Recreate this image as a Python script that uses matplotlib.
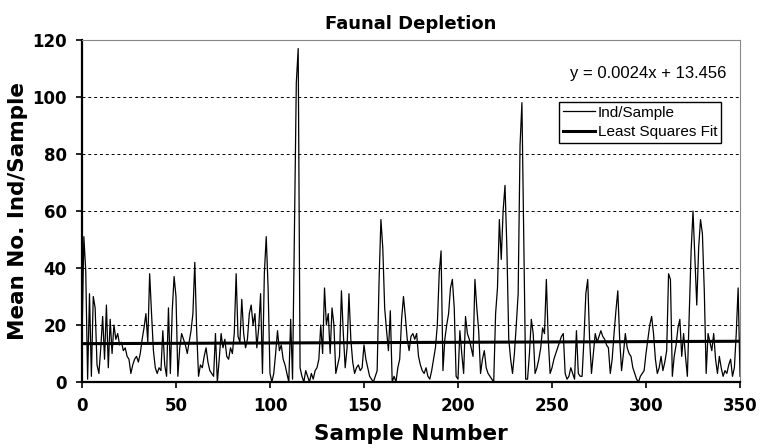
import numpy as np
import matplotlib.pyplot as plt

plt.rcParams['font.family'] = ['DejaVu Sans']

# Ind/Sample values (sample 0..350)
ind_per_sample = [
    14, 51, 39, 1, 31, 2, 30, 26, 6, 3,
    12, 23, 8, 27, 5, 22, 10, 20, 15, 17,
    13, 14, 11, 12, 9, 8, 3, 6, 8, 9,
    7, 10, 15, 19, 24, 14, 38, 24, 11, 5,
    3, 5, 4, 18, 6, 2, 26, 3, 25, 37,
    30, 2, 12, 17, 15, 13, 10, 14, 18, 24,
    42, 18, 2, 6, 5, 9, 12, 7, 4, 3,
    2, 17, 0, 8, 17, 12, 15, 9, 8, 12,
    10, 17, 38, 16, 14, 29, 17, 12, 15, 24,
    27, 20, 24, 12, 19, 31, 3, 38, 51, 33,
    3, 0, 3, 10, 18, 11, 13, 8, 6, 3,
    0, 22, 1, 54, 105, 117, 5, 2, 0, 4,
    2, 0, 3, 1, 4, 5, 8, 20, 10, 33,
    20, 24, 10, 26, 20, 3, 6, 9, 32, 17,
    5, 12, 31, 15, 7, 3, 5, 6, 4, 5,
    13, 8, 5, 2, 1, 0, 2, 4, 35, 57,
    47, 26, 18, 11, 25, 0, 2, 0, 5, 8,
    22, 30, 23, 15, 11, 16, 17, 15, 17, 9,
    6, 4, 3, 5, 2, 1, 4, 8, 12, 20,
    38, 46, 4, 15, 20, 24, 33, 36, 26, 2,
    1, 18, 10, 3, 23, 17, 15, 12, 9, 36,
    26, 18, 3, 8, 11, 5, 3, 2, 1, 0,
    24, 33, 57, 43, 60, 69, 47, 15, 8, 3,
    10, 20, 31, 83, 98, 50, 1, 1, 10, 22,
    17, 3, 5, 8, 12, 19, 17, 36, 15, 3,
    5, 8, 10, 12, 14, 16, 17, 3, 1, 2,
    5, 3, 1, 18, 3, 2, 2, 15, 31, 36,
    15, 3, 10, 17, 14, 16, 18, 16, 15, 13,
    12, 3, 8, 17, 25, 32, 15, 4, 10, 17,
    12, 10, 9, 5, 3, 1, 0, 2, 3, 4,
    10, 15, 20, 23, 17, 8, 3, 5, 9, 4,
    7, 11, 38, 36, 2, 9, 13, 19, 22, 9,
    17, 9, 2, 24, 46, 60, 43, 27, 47, 57,
    52, 32, 3, 17, 14, 11, 17, 8, 3, 9,
    5, 2, 4, 3, 6, 8, 2, 5, 17, 33, 2,
]

# least squares fit as printed on the chart
slope = 0.0024
intercept = 13.456

samples = np.arange(len(ind_per_sample))
fit = slope * samples + intercept

fig = plt.figure(figsize=(7.64, 4.48), dpi=100)
ax = fig.add_axes([0.1073, 0.1473, 0.8613, 0.7634])

ax.plot(samples, ind_per_sample, color='black', lw=0.9, label='Ind/Sample')
ax.plot(samples, fit, color='black', lw=2.2, label='Least Squares Fit')

ax.set_xlim(0, 350)
ax.set_ylim(0, 120)
ax.set_xticks(np.arange(0, 351, 50))
ax.set_yticks(np.arange(0, 121, 20))
ax.yaxis.grid(True, color='black', linestyle=(0, (3, 3)), lw=0.7)
ax.set_axisbelow(True)

for s in ['left', 'bottom']:
    ax.spines[s].set_linewidth(1.6)
for s in ['top', 'right']:
    ax.spines[s].set_color('#888888')
    ax.spines[s].set_linewidth(0.8)

ax.tick_params(direction='out', length=4, width=1.2, labelsize=12, pad=7)
for lab in ax.get_xticklabels() + ax.get_yticklabels():
    lab.set_fontweight('bold')

ax.set_title('Faunal Depletion', fontsize=13, fontweight='bold', pad=8)
ax.set_xlabel('Sample Number', fontsize=15.5, fontweight='bold', labelpad=6)
ax.set_ylabel('Mean No. Ind/Sample', fontsize=15.5, fontweight='bold', labelpad=3)

ax.text(0.979, 0.902, 'y = 0.0024x + 13.456', transform=ax.transAxes,
        ha='right', va='center', fontsize=12, family='Liberation Sans')

leg = ax.legend(loc='upper right', bbox_to_anchor=(0.971, 0.819),
                prop={'family': 'Liberation Sans', 'size': 11},
                frameon=True, fancybox=False, borderpad=0.25, handlelength=2.1,
                handletextpad=0.15, labelspacing=0.35, borderaxespad=0)
leg.get_frame().set_edgecolor('black')
leg.get_frame().set_linewidth(1.0)
leg.get_frame().set_alpha(1)

fig.savefig('out.png', dpi=100)
